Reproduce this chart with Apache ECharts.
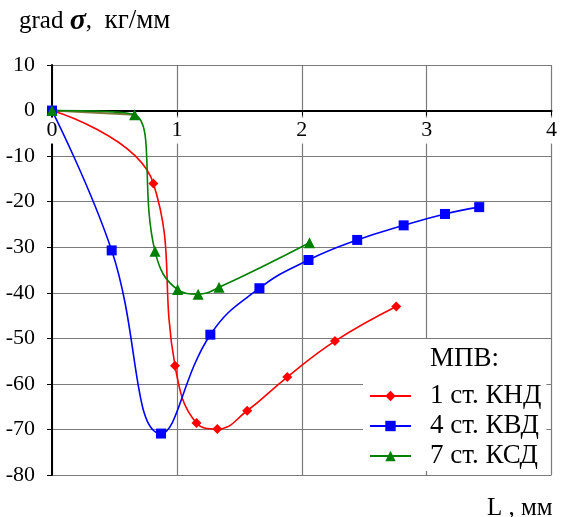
<!DOCTYPE html>
<html>
<head>
<meta charset="utf-8">
<script src="https://cdn.jsdelivr.net/npm/echarts@6/dist/echarts.min.js"></script>
<style>html,body{margin:0;padding:0;background:#fff}#c{width:561px;height:517px}</style>
</head>
<body>
<div id="c"></div>
<script>
// Data
var xTicks = [0, 1, 2, 3, 4];
var yTicks = [-80, -70, -60, -50, -40, -30, -20, -10, 0, 10];
var seriesNames = ['1 ст. КНД', '4 ст. КВД', '7 ст. КСД'];

var redX = [0, 0.812, 0.985, 1.157, 1.324, 1.563, 1.884, 2.266, 2.757];
var redY = [0, -16.0, -56.0, -68.6, -69.9, -65.9, -58.5, -50.6, -43.0];

var blueX = [0, 0.478, 0.873, 1.268, 1.661, 2.054, 2.444, 2.816, 3.147, 3.421];
var blueY = [0, -30.7, -70.9, -49.2, -39.0, -32.8, -28.4, -25.2, -22.7, -21.2];

var greenX = [0, 0.661, 0.825, 1.006, 1.170, 1.338, 2.062];
var greenY = [0, -0.9, -30.9, -39.3, -40.3, -38.8, -29.0];

function pairs(xs, ys) { return xs.map(function (x, i) { return [x, ys[i]]; }); }

var FONT = "'Liberation Serif', 'Times New Roman', serif";
var W = 561, H = 517, GL = 52, GR = 7, GT = 65, GB = 42;
var yMin = yTicks[0], yMax = yTicks[yTicks.length - 1];
var zeroOffset = -((0 - yMin) / (yMax - yMin)) * (H - GT - GB);

var chart = echarts.init(document.getElementById('c'), null, { renderer: 'canvas' });

chart.setOption({
  animation: false,
  backgroundColor: '#fff',
  title: [{
    text: '{a|grad }{b|σ}{a|,  }{c|кг/мм}',
    left: 14, top: 1,
    textStyle: {
      rich: {
        a: { fontFamily: FONT, fontSize: 25, fontWeight: 'normal', color: '#000' },
        b: { fontFamily: FONT, fontSize: 30, fontWeight: 'bold', fontStyle: 'italic', color: '#000' },
        c: { fontFamily: FONT, fontSize: 27, fontWeight: 'normal', color: '#000' }
      }
    }
  }, {
    text: 'L , мм',
    left: 482, top: 491,
    textStyle: { fontFamily: FONT, fontSize: 25, fontWeight: 'normal', color: '#000' }
  }],
  grid: { left: GL, right: GR, top: GT, bottom: GB, containLabel: false },
  xAxis: {
    type: 'value', min: xTicks[0], max: xTicks[xTicks.length - 1], interval: 1,
    position: 'bottom', offset: zeroOffset,
    axisLine: { onZero: false, lineStyle: { color: '#000', width: 2 } },
    axisTick: { show: true, length: 5, lineStyle: { color: '#000' } },
    axisLabel: {
      fontFamily: FONT, fontSize: 22, color: '#000', margin: 7,
      backgroundColor: '#fff', padding: [2, 1, 2, 1]
    },
    splitLine: { show: true, lineStyle: { color: '#7a7a7a', width: 1.2 } }
  },
  yAxis: {
    type: 'value', min: yMin, max: yMax, interval: 10,
    axisLine: { onZero: false, lineStyle: { color: '#000', width: 2 } },
    axisTick: { show: true, length: 5, lineStyle: { color: '#000' } },
    axisLabel: { fontFamily: FONT, fontSize: 22, color: '#000', margin: 17 },
    splitLine: { show: true, lineStyle: { color: '#7a7a7a', width: 1.2 } }
  },
  legend: {
    orient: 'vertical', left: 363, top: 339,
    padding: [42, 5, 0, 6],
    backgroundColor: '#fff',
    itemWidth: 41, itemHeight: 13, itemGap: 0,
    textStyle: { fontFamily: FONT, fontSize: 27, lineHeight: 30, color: '#000', padding: [0, 0, 0, 14] },
    data: seriesNames
  },
  graphic: [{
    type: 'text', left: 430, top: 345, z: 100,
    style: { text: 'МПВ:', fontFamily: FONT, fontSize: 27, fill: '#000' }
  }],
  series: [{
    name: seriesNames[0], type: 'line', smooth: 0.45,
    data: pairs(redX, redY),
    symbol: 'diamond', symbolSize: 10,
    lineStyle: { color: '#ff0000', width: 1.6 },
    itemStyle: { color: '#ff0000' }
  }, {
    name: seriesNames[1], type: 'line', smooth: 0.45,
    data: pairs(blueX, blueY),
    symbol: 'rect', symbolSize: 10,
    lineStyle: { color: '#0000ff', width: 1.6 },
    itemStyle: { color: '#0000ff' }
  }, {
    name: seriesNames[2], type: 'line', smooth: 0.45,
    data: pairs(greenX, greenY),
    symbol: 'triangle', symbolSize: 11,
    lineStyle: { color: '#008000', width: 1.6 },
    itemStyle: { color: '#008000' },
    z: 3
  }, {
    // first (olive-coloured) segment of the 7 ст. КСД curve
    name: 'olive', type: 'line', smooth: false,
    data: pairs(greenX.slice(0, 2), greenY.slice(0, 2)),
    showSymbol: false, silent: true,
    lineStyle: { color: '#807a3a', width: 2 },
    z: 2
  }]
});
</script>
</body>
</html>
